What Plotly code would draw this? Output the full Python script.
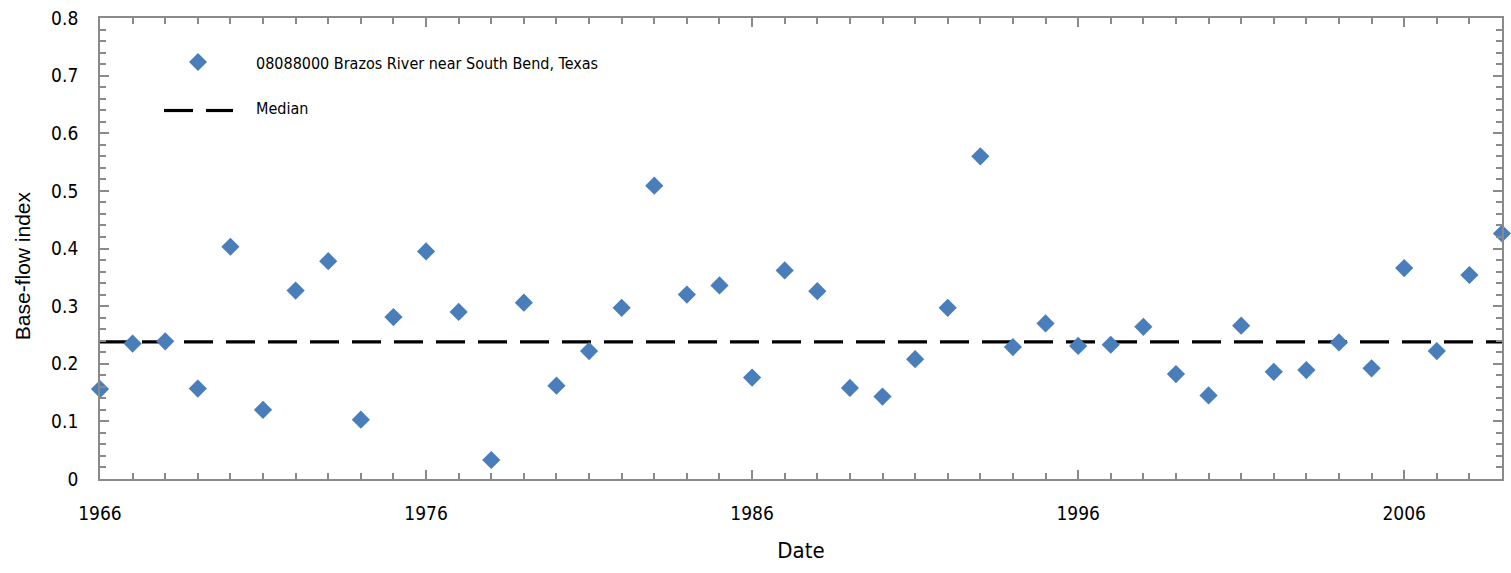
import numpy as np
import plotly.graph_objects as go

# Annual base-flow index, 08088000 Brazos River near South Bend, Texas
years = list(range(1966, 2010))
bfi = [
    0.156, 0.235, 0.239, 0.157, 0.403, 0.120, 0.327, 0.378, 0.103, 0.281,
    0.395, 0.290, 0.033, 0.306, 0.162, 0.222, 0.297, 0.509, 0.320, 0.336,
    0.176, 0.362, 0.326, 0.158, 0.143, 0.208, 0.297, 0.560, 0.229, 0.270,
    0.231, 0.233, 0.264, 0.182, 0.145, 0.266, 0.186, 0.189, 0.237, 0.192,
    0.366, 0.222, 0.354, 0.426,
]
median_bfi = float(np.median(bfi))

x_tick_vals = [1966, 1976, 1986, 1996, 2006]
x_tick_text = ["1966", "1976", "1986", "1996", "2006"]
y_tick_vals = [0, 0.1, 0.2, 0.3, 0.4, 0.5, 0.6, 0.7, 0.8]
y_tick_text = ["0", "0.1", "0.2", "0.3", "0.4", "0.5", "0.6", "0.7", "0.8"]

series_name = "08088000 Brazos River near South Bend, Texas"
median_name = "Median"

BLUE = "#4a7ebb"
AXIS = "#8a8a8a"
NARROW = "Liberation Sans Narrow, DejaVu Sans Condensed, Roboto, Arial, sans-serif"

fig = go.Figure()

fig.add_trace(go.Scatter(
    x=[years[0], years[-1]], y=[median_bfi, median_bfi],
    mode="lines", name=median_name, showlegend=False,
    line=dict(color="black", width=3.2, dash="29px,13px"),
    cliponaxis=False,
))

fig.add_trace(go.Scatter(
    x=years, y=bfi, mode="markers", name=series_name, showlegend=False,
    marker=dict(symbol="diamond", size=14, color=BLUE, line=dict(width=0)),
    cliponaxis=False,
))

# Legend drawn as shapes + text in the upper-left of the plot
shapes = [
    dict(type="path", xref="paper", yref="paper",
         xsizemode="pixel", ysizemode="pixel",
         xanchor=0, yanchor=1,
         path="M98,-35 L107,-44 L98,-53 L89,-44 Z",
         fillcolor=BLUE, line=dict(width=0)),
    dict(type="line", xref="paper", yref="paper",
         xsizemode="pixel", ysizemode="pixel", xanchor=0, yanchor=1,
         x0=64, x1=93, y0=-92.5, y1=-92.5,
         line=dict(color="black", width=3.2)),
    dict(type="line", xref="paper", yref="paper",
         xsizemode="pixel", ysizemode="pixel", xanchor=0, yanchor=1,
         x0=106, x1=133, y0=-92.5, y1=-92.5,
         line=dict(color="black", width=3.2)),
]

annotations = [
    dict(text=series_name, xref="paper", yref="paper", x=(254 - 100) / 1404,
         y=1 - (62 - 16) / 462.7, xanchor="left", yanchor="middle",
         showarrow=False, font=dict(family=NARROW, size=16, color="black")),
    dict(text=median_name, xref="paper", yref="paper", x=(254 - 100) / 1404,
         y=1 - (107 - 16) / 462.7, xanchor="left", yanchor="middle",
         showarrow=False, font=dict(family=NARROW, size=16, color="black")),
    dict(text="Base-flow index", xref="paper", yref="paper",
         x=(22 - 100) / 1404, y=1 - (265 - 16) / 462.7,
         xanchor="center", yanchor="middle", textangle=-90,
         showarrow=False,
         font=dict(family="Liberation Sans, Arial, sans-serif", size=21, color="black")),
]

fig.update_layout(
    width=1511, height=573,
    margin=dict(l=100, r=7, t=16, b=94),
    paper_bgcolor="white", plot_bgcolor="white",
    showlegend=False,
    shapes=shapes, annotations=annotations,
    font=dict(family=NARROW, color="black", size=18),
)

fig.update_xaxes(
    range=[1966, 2009], tickmode="array", tickvals=x_tick_vals, ticktext=x_tick_text,
    ticks="inside", ticklen=9, tickwidth=1.5, tickcolor=AXIS,
    minor=dict(dtick=1, tick0=1966, ticks="inside", ticklen=6, tickwidth=1.5, tickcolor=AXIS),
    showline=True, linecolor=AXIS, linewidth=1.8, mirror="ticks",
    showgrid=False, zeroline=False,
    ticklabelstandoff=16,
    tickfont=dict(family=NARROW, size=19, color="black"),
    title=dict(text="Date", standoff=20, font=dict(family=NARROW, size=22, color="black")),
)

fig.update_yaxes(
    range=[0, 0.8], tickmode="array", tickvals=y_tick_vals, ticktext=y_tick_text,
    ticks="inside", ticklen=9, tickwidth=1.5, tickcolor=AXIS,
    minor=dict(dtick=0.02, tick0=0, ticks="inside", ticklen=6, tickwidth=1.5, tickcolor=AXIS),
    showline=True, linecolor=AXIS, linewidth=1.8, mirror="ticks",
    showgrid=False, zeroline=False,
    ticklabelstandoff=16,
    tickfont=dict(family=NARROW, size=19, color="black"),
)

fig.write_html("out.html")
